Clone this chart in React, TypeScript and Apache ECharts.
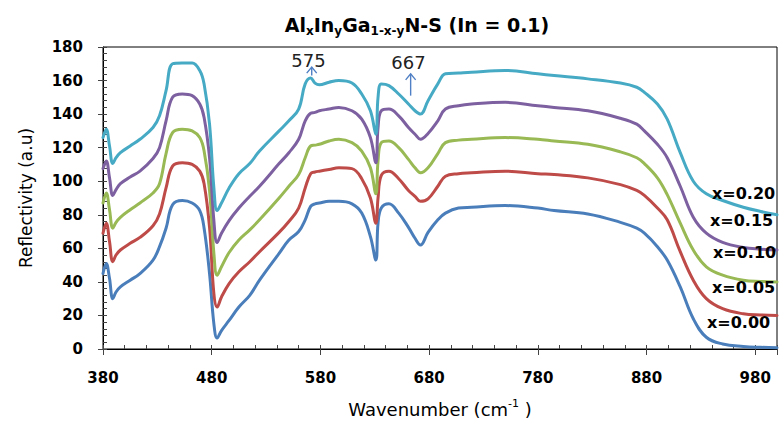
import React, { useEffect, useRef } from 'react';
import * as echarts from 'echarts';

// Wavenumber (cm-1) sample positions
const wavenumber = [380, 383, 386, 389, 392, 396, 405, 414, 426, 432, 438, 444, 453, 462, 469, 473, 478, 482, 485, 489, 496, 505, 515, 524, 542, 551, 560, 566, 571, 575, 579, 588, 597, 609, 618, 626, 631, 633, 636, 643, 652, 661, 667, 672, 679, 688, 695, 707, 719, 750, 780, 795, 826, 856, 871, 878, 890, 899, 911, 923, 935, 950, 969, 985, 1000];

const seriesNames = ['x=0.00', 'x=0.05', 'x=0.10', 'x=0.15', 'x=0.20'];

const reflX000 = [45, 51, 42, 30, 34, 37, 41, 45, 53, 61, 72, 86, 88.5, 87, 82.5, 72, 45, 15, 6.5, 11, 17, 25, 32, 41, 57, 65, 70, 77, 85, 86.5, 87, 88, 88, 86.5, 81, 67, 53, 75, 84, 86.5, 81, 72.5, 66, 62, 69.5, 77, 81, 84, 84.5, 85.5, 84, 82.5, 80.5, 75.5, 72, 69, 61, 53, 37, 18, 7, 3, 1.5, 1, 0.8];
const reflX005 = [69, 75, 64, 52, 56, 59, 63, 66.5, 73.5, 80.5, 96, 109, 111, 110, 106, 98.5, 72.5, 33, 25, 31, 39, 46, 52, 58, 69.5, 76, 84, 96, 104.5, 105.5, 106, 107, 108, 107.5, 101.5, 90, 75, 90, 103.5, 106, 101.5, 94.5, 91, 88, 89.5, 97, 103, 104.5, 105, 106, 104.5, 104, 102, 98, 94.5, 91.5, 84, 77, 58, 41, 30, 24, 21, 20.3, 20];
const reflX010 = [87, 93, 83, 72, 75.5, 78.5, 83, 87, 93, 98.5, 116.5, 129, 131, 130, 126, 118, 94.5, 57, 44, 49, 57.5, 65, 71, 77, 90, 97, 104, 114, 121, 121.5, 122, 124, 125, 123, 118, 108, 92.5, 112, 123, 124, 120, 113, 108, 105, 108, 116.5, 123, 124.5, 125, 126, 125, 124, 122, 117.5, 114, 110.5, 102, 92, 75, 59, 49, 44, 41, 40.3, 40];
const reflX015 = [107.5, 112, 102, 91.5, 95, 98.5, 102.5, 106, 113.5, 120, 136, 150, 152, 151, 146, 138, 114, 76.5, 63.5, 69, 76.5, 84, 91, 97, 110.5, 117, 125, 136, 140.5, 141, 142, 143, 144, 142, 137, 126, 111, 132, 142, 143, 139, 132, 128, 125, 128.5, 136, 143, 145, 146, 147, 145, 144, 142, 137.5, 134, 130, 122, 114, 97, 78.5, 69, 63.5, 60.5, 59.5, 59];
const reflX020 = [126, 131, 121, 110.5, 114, 117, 121, 125, 132, 139, 154, 170, 170.5, 170.5, 166, 158, 134, 96, 82.5, 87, 96, 104.5, 110.5, 118, 130, 136, 143, 158, 161.5, 158.5, 157.5, 159, 160, 158.5, 152, 142, 128, 150, 158, 157, 152, 146, 142, 140, 148, 158, 164, 164.5, 165, 166, 164, 163, 161, 158.5, 156, 153, 146, 137, 117, 100, 92.5, 88.5, 84.5, 82, 80];

const lineColors = ['#4A7EBB', '#BE4B48', '#98B954', '#7D60A0', '#46AAC5'];

// Peak annotations
const annoText = ['575', '667'];
const annoArrowX = [572, 663];
const annoArrowBase = [163, 151];
const annoArrowTip = [168, 164];
const annoLabelX = [569, 661];
const annoLabelY = [172, 171];

// Right-hand series labels
const labelText = ['x=0.20', 'x=0.15', 'x=0.10', 'x=0.05', 'x=0.00'];
const labelLeft = [712, 710, 713, 712, 707];
const labelMid = [193, 220, 252, 287, 322];

const FONT = 'DejaVu Sans';

export default function App() {
  const ref = useRef<HTMLDivElement>(null);
  useEffect(() => {
    const chart = echarts.init(ref.current as HTMLDivElement, null, { renderer: 'svg' });
    const data = [reflX000, reflX005, reflX010, reflX015, reflX020];
    const option: any = {
      animation: false,
      backgroundColor: '#fff',
      title: {
        text: '{n|Al}{s|x}{n|In}{s|y}{n|Ga}{s|1-x-y}{n|N-S (In = 0.1)}',
        left: 412,
        textAlign: 'center',
        top: 8,
        textStyle: {
          fontFamily: FONT,
          rich: {
            n: { fontFamily: FONT, fontSize: 19, fontWeight: 'bold', color: '#000', lineHeight: 24, verticalAlign: 'middle' },
            s: { fontFamily: FONT, fontSize: 12, fontWeight: 'bold', color: '#000', lineHeight: 13, verticalAlign: 'bottom' },
          },
        },
      },
      grid: { left: 103, top: 47, right: -2, bottom: 77, show: true, borderColor: '#000', borderWidth: 1 },
      xAxis: [
        {
          type: 'value', min: 380, max: 1000, interval: 20, position: 'bottom',
          axisLine: { show: true, onZero: false, lineStyle: { color: '#000', width: 1 } },
          axisTick: { show: true, inside: true, length: 4, lineStyle: { color: '#444' } },
          axisLabel: { show: false },
          splitLine: { show: false },
        },
        {
          type: 'value', min: 0, max: 620, interval: 100, position: 'bottom',
          axisLine: { show: false, onZero: false },
          axisTick: { show: true, inside: false, length: 6, lineStyle: { color: '#444' } },
          axisLabel: {
            margin: 21, fontFamily: FONT, fontSize: 15, fontWeight: 'bold', color: '#000',
            formatter: (v: number) => (v <= 600 ? String(v + 380) : ''),
          },
          splitLine: { show: false },
          name: 'Wavenumber (cm{sup|-1} )',
          nameLocation: 'middle',
          nameGap: 49,
          nameTextStyle: {
            fontFamily: FONT, fontSize: 18, color: '#000', lineHeight: 22,
            rich: { sup: { fontFamily: FONT, fontSize: 11, color: '#000', lineHeight: 11, verticalAlign: 'top' } },
          },
        },
      ],
      yAxis: [
        {
          type: 'value', min: 0, max: 180, interval: 20, position: 'left',
          axisLine: { show: true, onZero: false, lineStyle: { color: '#000', width: 1 } },
          axisTick: { show: true, inside: false, length: 5, lineStyle: { color: '#444' } },
          axisLabel: { margin: 20, fontFamily: FONT, fontSize: 15, fontWeight: 'bold', color: '#000' },
          splitLine: { show: false },
          name: 'Reflectivity (a.u)',
          nameLocation: 'middle',
          nameGap: 69,
          nameTextStyle: { fontFamily: FONT, fontSize: 17, color: '#000' },
        },
        {
          type: 'value', min: 0, max: 180, interval: 4, position: 'left',
          axisLine: { show: false, onZero: false },
          axisTick: { show: true, inside: true, length: 4, lineStyle: { color: '#444' } },
          axisLabel: { show: false },
          splitLine: { show: false },
        },
      ],
      series: data.map((d, i) => ({
        type: 'line',
        name: seriesNames[i],
        xAxisIndex: 0,
        yAxisIndex: 0,
        data: wavenumber.map((w, j) => [w, d[j]]),
        showSymbol: false,
        symbol: 'none',
        smooth: 0.4,
        lineStyle: { color: lineColors[i], width: 3, join: 'round', cap: 'round' },
        itemStyle: { color: lineColors[i] },
      })),
      graphic: labelText.map((t, i) => ({
        type: 'text',
        x: labelLeft[i],
        y: labelMid[i],
        z: 10,
        style: { text: t, fontFamily: FONT, fontSize: 16, fontWeight: 'bold', fill: '#000', textVerticalAlign: 'middle', verticalAlign: 'middle' },
      })),
    };
    chart.setOption(option);

    const annoGraphics: any[] = [];
    annoText.forEach((t, i) => {
      const base = chart.convertToPixel({ xAxisIndex: 0, yAxisIndex: 0 }, [annoArrowX[i], annoArrowBase[i]]);
      const tip = chart.convertToPixel({ xAxisIndex: 0, yAxisIndex: 0 }, [annoArrowX[i], annoArrowTip[i]]);
      const lbl = chart.convertToPixel({ xAxisIndex: 0, yAxisIndex: 0 }, [annoLabelX[i], annoLabelY[i]]);
      annoGraphics.push({
        type: 'line', z: 10,
        shape: { x1: base[0], y1: base[1], x2: tip[0], y2: tip[1] },
        style: { stroke: '#4F7FC4', lineWidth: 1.4 },
      });
      annoGraphics.push({
        type: 'polyline', z: 10,
        shape: { points: [[tip[0] - 5, tip[1] + 6], [tip[0], tip[1]], [tip[0] + 5, tip[1] + 6]] },
        style: { stroke: '#4F7FC4', lineWidth: 1.4, fill: 'none' },
      });
      annoGraphics.push({
        type: 'text', z: 10, x: lbl[0], y: lbl[1],
        style: { text: t, fontFamily: FONT, fontSize: 18, fill: '#222', align: 'center', verticalAlign: 'middle' },
      });
    });
    chart.setOption({ graphic: [...(option.graphic as any[]), ...annoGraphics] });

    return () => chart.dispose();
  }, []);
  return <div ref={ref} style={{ position: 'fixed', left: 0, top: 0, width: 780, height: 426, background: '#fff' }} />;
}
